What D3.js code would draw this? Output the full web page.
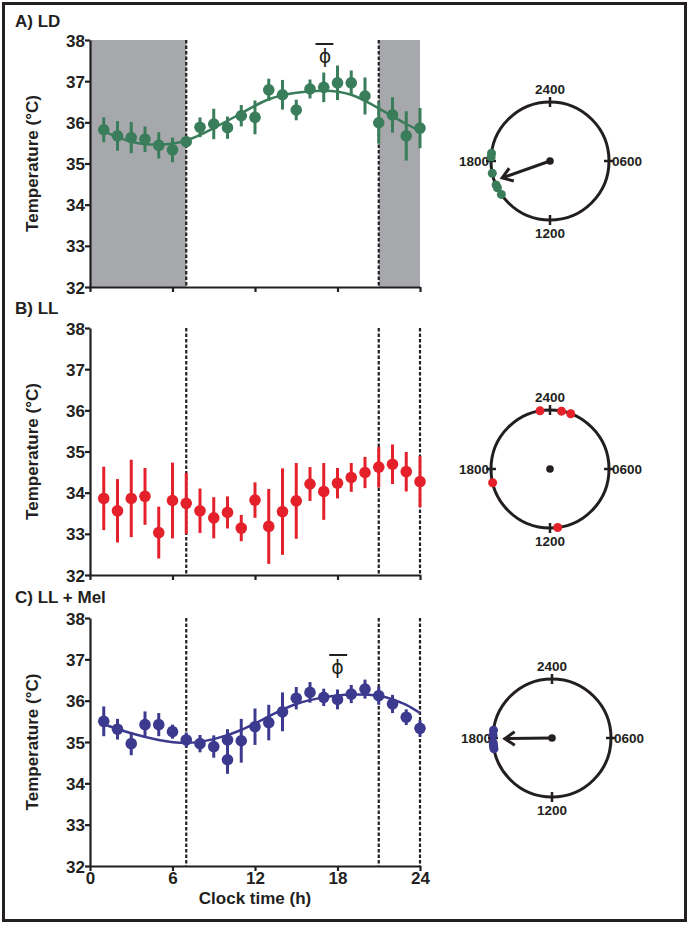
<!DOCTYPE html>
<html><head><meta charset="utf-8">
<script src="https://cdn.jsdelivr.net/npm/d3@7"></script>
<style>
body{margin:0;background:#fff}
text{font-family:"Liberation Sans",Arial,sans-serif;font-weight:bold;fill:#231f20}
</style>
</head><body>
<svg id="chart" width="690" height="926"></svg>
<script>
// ---------- data ----------
const hoursAB = [1,2,3,4,5,6,7,8,9,10,11,12,13,14,15,16,17,18,19,20,21,22,23,24];
const ldMean = [35.82,35.67,35.63,35.59,35.44,35.33,35.53,35.88,35.96,35.87,36.16,36.12,36.79,36.67,36.30,36.81,36.85,36.96,36.96,36.64,35.99,36.18,35.67,35.86];
const ldSem  = [0.30,0.36,0.38,0.31,0.32,0.30,0.12,0.24,0.37,0.27,0.26,0.41,0.27,0.36,0.25,0.23,0.36,0.42,0.30,0.45,0.51,0.43,0.60,0.49];
const llMean = [33.86,33.56,33.86,33.91,33.03,33.81,33.74,33.56,33.39,33.52,33.14,33.82,33.18,33.54,33.80,34.21,34.03,34.23,34.37,34.49,34.62,34.69,34.51,34.27];
const llSem  = [0.77,0.77,0.94,0.69,0.63,0.92,0.74,0.54,0.50,0.39,0.32,0.43,0.91,1.05,0.92,0.41,0.69,0.37,0.35,0.38,0.49,0.48,0.48,0.62];
const hoursC = [1,2,3,4,5,6,7,8,9,10,10,11,12,13,14,15,16,17,18,19,20,21,22,23,24];
const melMean = [35.50,35.31,34.96,35.42,35.42,35.25,35.05,34.96,34.89,35.05,34.57,35.03,35.37,35.47,35.73,36.06,36.20,36.08,36.03,36.16,36.28,36.12,35.92,35.60,35.33];
const melSem  = [0.36,0.25,0.28,0.32,0.28,0.17,0.18,0.21,0.27,0.26,0.34,0.53,0.44,0.43,0.47,0.27,0.25,0.21,0.24,0.22,0.23,0.22,0.22,0.19,0.20];

// fitted curves
const fitHoursA = [1,3,5,7,9,11,13,15,17,19,21,23,24];
const fitA = [35.78,35.53,35.46,35.56,35.86,36.22,36.56,36.72,36.77,36.67,36.34,35.96,35.80];
const fitHoursC = [1,3,5,7,9,11,13,15,17,19,21,22,23,24];
const fitC = [35.43,35.21,35.05,34.98,35.07,35.29,35.62,35.92,36.08,36.15,36.12,36.03,35.90,35.70];

// phase markers (acrophase and its error)
const phiA = [17.1, 16.4, 17.7];
const phiC = [18.0, 17.4, 18.7];

const xTicks = [0,6,12,18,24];
const yTicks = [32,33,34,35,36,37,38];
const dashedA = [7,21];
const dashedBC = [7,21,24];
const darkA = [[0,7],[21,24]];

// circular (phase) plots: hours of individual acrophases
const circA = [18.5,18.26,17.2,16.4,16.2,15.7];
const circB = [23.35,0.75,1.37,17.1,11.5];
const circC = [18.5,18.2,17.7,17.45,17.3,17.55];
const arrowA = {hour:16.7, len:0.86};
const arrowC = {hour:17.95, len:0.8};
const clockLabels = [{h:0,t:"2400"},{h:6,t:"0600"},{h:12,t:"1200"},{h:18,t:"1800"}];

// ---------- drawing ----------
const svg = d3.select("#chart");
const ink = "#231f20";
const FONT = "'Liberation Sans',Arial,sans-serif";
svg.append("rect").attr("x",3.5).attr("y",3.5).attr("width",682).attr("height",917)
  .attr("fill","none").attr("stroke",ink).attr("stroke-width",3);

const x = d3.scaleLinear().domain([0,24]).range([90,420]);

function panel(o){
  const y = d3.scaleLinear().domain([32,38]).range([o.bottom,o.top]);
  const g = svg.append("g");
  (o.dark||[]).forEach(d=>{
    g.append("rect").attr("x",x(d[0])).attr("y",y(38)).attr("width",x(d[1])-x(d[0]))
      .attr("height",y(32)-y(38)).attr("fill","#a7a8ac");
  });
  o.dashed.forEach(h=>{
    g.append("line").attr("x1",x(h)).attr("x2",x(h)).attr("y1",y(38)).attr("y2",y(32))
      .attr("stroke",ink).attr("stroke-width",2.2).attr("stroke-dasharray","3.5,2");
  });
  const ya = g.append("g").attr("transform",`translate(${x(0)},0)`)
    .call(d3.axisLeft(y).tickValues(yTicks).tickFormat(d3.format("d")).tickSize(5).tickSizeOuter(0));
  const xa = g.append("g").attr("transform",`translate(0,${y(32)})`)
    .call(d3.axisBottom(x).tickValues(xTicks).tickSize(5).tickSizeOuter(0)
      .tickFormat(o.xlabels? d3.format("d") : ""));
  [ya,xa].forEach(a=>{
    a.select(".domain").attr("stroke",ink).attr("stroke-width",2.2);
    a.selectAll(".tick line").attr("stroke",ink).attr("stroke-width",2.2);
    a.selectAll("text").attr("font-size",17).attr("fill",ink)
      .style("font-family",FONT).style("font-weight","bold");
  });
  ya.selectAll("text").attr("x",-5).attr("dy","0.36em");
  xa.selectAll("text").attr("y",6);
  g.append("text").attr("transform",`translate(38,${(o.top+o.bottom)/2}) rotate(-90)`)
    .attr("text-anchor","middle").attr("font-size",17).text("Temperature (°C)");
  g.append("text").attr("x",15).attr("y",o.titleY).attr("font-size",17).text(o.title);
  if(o.fitH){
    g.append("path").datum(o.fitH.map((h,i)=>[h,o.fitV[i]]))
      .attr("d",d3.line().x(d=>x(d[0])).y(d=>y(d[1])).curve(d3.curveNatural))
      .attr("fill","none").attr("stroke",o.color).attr("stroke-width",2.5);
  }
  o.hours.forEach((h,i)=>{
    g.append("line").attr("x1",x(h)).attr("x2",x(h))
      .attr("y1",y(o.mean[i]-o.sem[i])).attr("y2",y(o.mean[i]+o.sem[i]))
      .attr("stroke",o.color).attr("stroke-width",3);
  });
  g.selectAll("circle.pt").data(o.hours).enter().append("circle")
    .attr("cx",d=>x(d)).attr("cy",(d,i)=>y(o.mean[i])).attr("r",5.8).attr("fill",o.color);
  if(o.phi){
    g.append("line").attr("x1",x(o.phi[1])).attr("x2",x(o.phi[2]))
      .attr("y1",o.phiY).attr("y2",o.phiY).attr("stroke",ink).attr("stroke-width",2);
    g.append("text").attr("x",x(o.phi[0])).attr("y",o.phiY+19).attr("text-anchor","middle")
      .attr("font-size",19).style("font-weight","normal")
      .style("font-family","'DejaVu Sans',sans-serif").style("fill",ink).text("ϕ");
  }
  if(o.xlabels){
    g.append("text").attr("x",(x(0)+x(24))/2).attr("y",o.bottom+38).attr("text-anchor","middle")
      .attr("font-size",17).text("Clock time (h)");
  }
}

panel({top:40,bottom:287,title:"A) LD",titleY:27,hours:hoursAB,mean:ldMean,sem:ldSem,
  color:"#3a7d5a",dark:darkA,dashed:dashedA,fitH:fitHoursA,fitV:fitA,phi:phiA,phiY:44});
panel({top:328,bottom:575,title:"B) LL",titleY:314,hours:hoursAB,mean:llMean,sem:llSem,
  color:"#e4202a",dashed:dashedBC});
panel({top:618,bottom:866,title:"C) LL + Mel",titleY:603,hours:hoursC,mean:melMean,sem:melSem,
  color:"#3c3a8e",dashed:dashedBC,fitH:fitHoursC,fitV:fitC,phi:phiC,phiY:655,xlabels:true});

// ---------- circular plots ----------
const ang = d3.scaleLinear().domain([0,24]).range([0,2*Math.PI]);
function clock(o){
  const R = 59;
  const g = svg.append("g").attr("transform",`translate(${o.cx},${o.cy})`);
  g.append("circle").attr("r",R).attr("fill","none").attr("stroke",ink).attr("stroke-width",3);
  clockLabels.forEach(l=>{
    const a = ang(l.h), sx=Math.sin(a), sy=-Math.cos(a);
    g.append("line").attr("x1",sx*(R-5)).attr("y1",sy*(R-5)).attr("x2",sx*(R+5)).attr("y2",sy*(R+5))
      .attr("stroke",ink).attr("stroke-width",2.5);
    const t = g.append("text").attr("font-size",13.5).text(l.t);
    if(l.h===0) t.attr("x",0).attr("y",-R-8).attr("text-anchor","middle");
    if(l.h===12) t.attr("x",0).attr("y",R+18).attr("text-anchor","middle");
    if(l.h===18) t.attr("x",-R-2).attr("y",5).attr("text-anchor","end");
    if(l.h===6) t.attr("x",R+3).attr("y",5).attr("text-anchor","start");
  });
  g.append("circle").attr("r",3.8).attr("fill",ink);
  if(o.arrow){
    const a = ang(o.arrow.hour), L = o.arrow.len*R;
    const tx = Math.sin(a)*L, ty = -Math.cos(a)*L;
    g.append("line").attr("x1",0).attr("y1",0).attr("x2",tx).attr("y2",ty)
      .attr("stroke",ink).attr("stroke-width",3);
    const dir = Math.atan2(ty,tx), hl=12, spread=0.6;
    const p1=[tx-hl*Math.cos(dir-spread), ty-hl*Math.sin(dir-spread)];
    const p2=[tx-hl*Math.cos(dir+spread), ty-hl*Math.sin(dir+spread)];
    g.append("path").attr("d",`M${p1}L${tx},${ty}L${p2}`).attr("fill","none")
      .attr("stroke",ink).attr("stroke-width",3).attr("stroke-linejoin","miter");
  }
  g.selectAll("circle.d").data(o.pts).enter().append("circle")
    .attr("cx",d=>Math.sin(ang(d))*R).attr("cy",d=>-Math.cos(ang(d))*R)
    .attr("r",4.5).attr("fill",o.color);
}
clock({cx:550,cy:161,pts:circA,color:"#3a7d5a",arrow:arrowA});
clock({cx:550,cy:469,pts:circB,color:"#e4202a"});
clock({cx:552,cy:738,pts:circC,color:"#3c3a8e",arrow:arrowC});
</script>
</body></html>
